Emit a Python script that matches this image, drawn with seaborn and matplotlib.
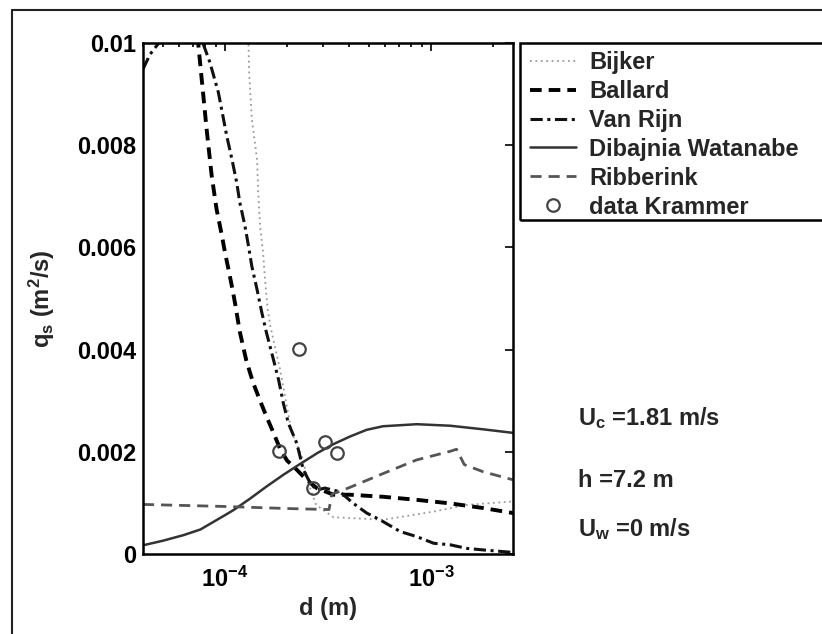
import matplotlib
matplotlib.use('Agg')
import matplotlib.pyplot as plt
import seaborn as sns
from matplotlib.lines import Line2D
from matplotlib.patches import Rectangle
from matplotlib.ticker import NullFormatter

# grain diameter d (m) and transport q_s (m^2/s)
bijker_d = [1.28e-4, 1.30e-4, 1.31e-4, 1.35e-4, 1.43e-4, 1.45e-4, 1.48e-4, 1.53e-4, 1.57e-4, 1.61e-4,
            1.66e-4, 1.85e-4, 2.11e-4, 2.35e-4, 2.59e-4, 2.77e-4, 3.36e-4, 5.86e-4, 1.03e-3, 1.49e-3, 2.51e-3]
bijker_q = [0.0105, 0.0100, 0.00943, 0.00851, 0.00773, 0.00707, 0.00642, 0.00590, 0.00530, 0.00480,
            0.00446, 0.00361, 0.00237, 0.00194, 0.00129, 0.00096, 0.00072, 0.00067, 0.00083, 0.00096, 0.00103]

ballard_d = [7.14e-5, 7.41e-5, 7.71e-5, 8.15e-5, 8.62e-5, 9.1e-5, 9.64e-5, 1.0e-4, 1.04e-4, 1.08e-4,
             1.12e-4, 1.18e-4, 1.27e-4, 1.37e-4, 1.48e-4, 1.59e-4, 1.72e-4, 1.85e-4, 2.0e-4, 2.23e-4,
             2.49e-4, 2.79e-4, 3.36e-4, 4.05e-4, 5.85e-4, 8.53e-4, 1.24e-3, 1.79e-3, 2.51e-3]
ballard_q = [0.0105, 0.0100, 0.00929, 0.00830, 0.00740, 0.00675, 0.00625, 0.00590, 0.00557, 0.00524,
             0.00490, 0.00435, 0.00378, 0.00335, 0.00300, 0.00269, 0.00237, 0.00206, 0.00183, 0.00165,
             0.00145, 0.00129, 0.00116, 0.00116, 0.00112, 0.00106, 0.00099, 0.00090, 0.00080]

vanrijn_d = [4.0e-5, 4.33e-5, 4.73e-5, 6.05e-5, 7.81e-5, 8.45e-5, 9.29e-5, 1.02e-4, 1.08e-4, 1.14e-4,
             1.18e-4, 1.25e-4, 1.30e-4, 1.35e-4, 1.43e-4, 1.51e-4, 1.59e-4, 1.72e-4, 1.82e-4, 1.92e-4,
             2.03e-4, 2.23e-4, 2.40e-4, 2.59e-4, 2.79e-4, 3.05e-4, 3.61e-4, 4.20e-4, 4.88e-4, 5.65e-4,
             7.08e-4, 8.53e-4, 1.03e-3, 1.24e-3, 1.49e-3, 1.79e-3, 2.51e-3]
vanrijn_q = [0.00949, 0.00978, 0.00998, 0.0110, 0.0100, 0.00962, 0.00903, 0.00818, 0.00773, 0.00727,
             0.00688, 0.00642, 0.00603, 0.00563, 0.00518, 0.00472, 0.00433, 0.00380, 0.00341, 0.00295,
             0.00256, 0.00217, 0.00165, 0.00139, 0.00125, 0.00129, 0.00122, 0.00099, 0.00080, 0.00067,
             0.00044, 0.00034, 0.00021, 0.00018, 0.00011, 0.00008, 0.00003]

dibajnia_d = [4.0e-5, 5.0e-5, 6.3e-5, 7.6e-5, 1.0e-4, 1.10e-4, 1.32e-4, 1.59e-4, 1.92e-4, 2.31e-4,
              2.82e-4, 3.36e-4, 4.05e-4, 4.87e-4, 5.85e-4, 8.53e-4, 1.24e-3, 1.79e-3, 2.51e-3]
dibajnia_q = [0.00017, 0.00026, 0.00037, 0.00048, 0.00076, 0.00086, 0.00108, 0.00132, 0.00155, 0.00176,
              0.00198, 0.00215, 0.00230, 0.00243, 0.00250, 0.00254, 0.00251, 0.00244, 0.00237]

ribberink_d = [4.0e-5, 1.0e-4, 2.0e-4, 3.2e-4, 3.3e-4, 3.75e-4, 5.9e-4, 8.5e-4, 1.24e-3, 1.33e-3,
               1.45e-3, 1.79e-3, 2.51e-3]
ribberink_q = [0.00097, 0.00093, 0.00089, 0.00087, 0.00117, 0.00125, 0.00158, 0.00184, 0.00201, 0.00205,
               0.00175, 0.00161, 0.00145]

krammer_d = [1.82e-4, 2.29e-4, 2.68e-4, 3.06e-4, 3.48e-4]
krammer_q = [0.00201, 0.00401, 0.00129, 0.00220, 0.00197]

yticks = [0, 0.002, 0.004, 0.006, 0.008, 0.01]
ytick_labels = ['0', '0.002', '0.004', '0.006', '0.008', '0.01']
xticks = [1e-4, 1e-3]
xtick_labels = [r'$\mathregular{10^{-4}}$', r'$\mathregular{10^{-3}}$']

sns.set_style('white')
plt.rcParams['font.family'] = ['Liberation Sans', 'DejaVu Sans']
plt.rcParams['font.weight'] = 'bold'
plt.rcParams['mathtext.fontset'] = 'custom'
plt.rcParams['mathtext.rm'] = 'Liberation Sans:bold'
plt.rcParams['mathtext.it'] = 'Liberation Sans:bold:italic'

fs = 17

fig = plt.figure(figsize=(8.22, 6.34), dpi=100)
ax = fig.add_axes([143 / 822, 80 / 634, 370 / 822, 511 / 634])
ax.set_xscale('log')

sns.lineplot(x=bijker_d, y=bijker_q, ax=ax, color='#9a9a9a', lw=1.3,
             linestyle=(0, (1, 2)), label='Bijker')
sns.lineplot(x=ballard_d, y=ballard_q, ax=ax, color='black', lw=2.8,
             linestyle=(0, (3, 1.8)), label='Ballard')
sns.lineplot(x=vanrijn_d, y=vanrijn_q, ax=ax, color='#111111', lw=2.2,
             linestyle=(0, (4, 1.5, 1, 1.5)), label='Van Rijn')
sns.lineplot(x=dibajnia_d, y=dibajnia_q, ax=ax, color='#333333', lw=1.8,
             linestyle='-', label='Dibajnia Watanabe')
sns.lineplot(x=ribberink_d, y=ribberink_q, ax=ax, color='#555555', lw=2.0,
             linestyle=(0, (4, 2.5)), label='Ribberink')
sns.lineplot(x=krammer_d, y=krammer_q, ax=ax, color='#444444', linestyle='none',
             marker='o', markersize=9, markerfacecolor='none', markeredgecolor='#444444',
             markeredgewidth=1.6, label='data Krammer')

ax.set_xlim(4e-5, 2.5e-3)
ax.set_ylim(0, 0.01)
ax.set_yticks(yticks)
ax.set_yticklabels(ytick_labels)
ax.set_xticks(xticks)
ax.set_xticklabels(xtick_labels)
ax.xaxis.set_minor_formatter(NullFormatter())
ax.tick_params(which='both', direction='in', top=True, right=True, labelsize=fs, width=1.2, colors='black')
ax.tick_params(which='major', length=6)
ax.tick_params(which='minor', length=3)
ax.tick_params(axis='y', pad=5)
ax.tick_params(axis='x', pad=9)
for s in ax.spines.values():
    s.set_linewidth(1.8)
    s.set_color('black')

ax.set_xlabel('d (m)', fontsize=fs, fontweight='bold')
ax.xaxis.set_label_coords(0.5, -0.085)
ax.set_ylabel(r'$\mathregular{q_s}$ $\mathregular{(m^2/s)}$', fontsize=fs, fontweight='bold')
ax.yaxis.set_label_coords(-0.232, 0.5)

leg = ax.legend(loc='upper left', bbox_to_anchor=(530 / 822, 1 - 51 / 634), bbox_transform=fig.transFigure,
                frameon=False, fontsize=fs, handlelength=1.95, handletextpad=0.55, labelspacing=0.25,
                borderaxespad=0, borderpad=0)
fig.add_artist(Rectangle((520 / 822, 1 - 220 / 634), 0.5, 177 / 634, transform=fig.transFigure,
                         fill=False, lw=1.8, edgecolor='black'))

fig.text(578 / 822, 1 - 425 / 634, r'$\mathregular{U_c}$ =1.81 m/s', fontsize=fs, va='baseline')
fig.text(578 / 822, 1 - 487 / 634, 'h =7.2 m', fontsize=fs, va='baseline')
fig.text(578 / 822, 1 - 536 / 634, r'$\mathregular{U_w}$ =0 m/s', fontsize=fs, va='baseline')

# frame of the original figure window
fig.add_artist(Line2D([12 / 822, 12 / 822], [0, 1 - 10 / 634], transform=fig.transFigure, color='#222222', lw=1.5))
fig.add_artist(Line2D([12 / 822, 1], [1 - 10 / 634, 1 - 10 / 634], transform=fig.transFigure, color='#222222', lw=1.5))

fig.savefig('out.png', dpi=100)
